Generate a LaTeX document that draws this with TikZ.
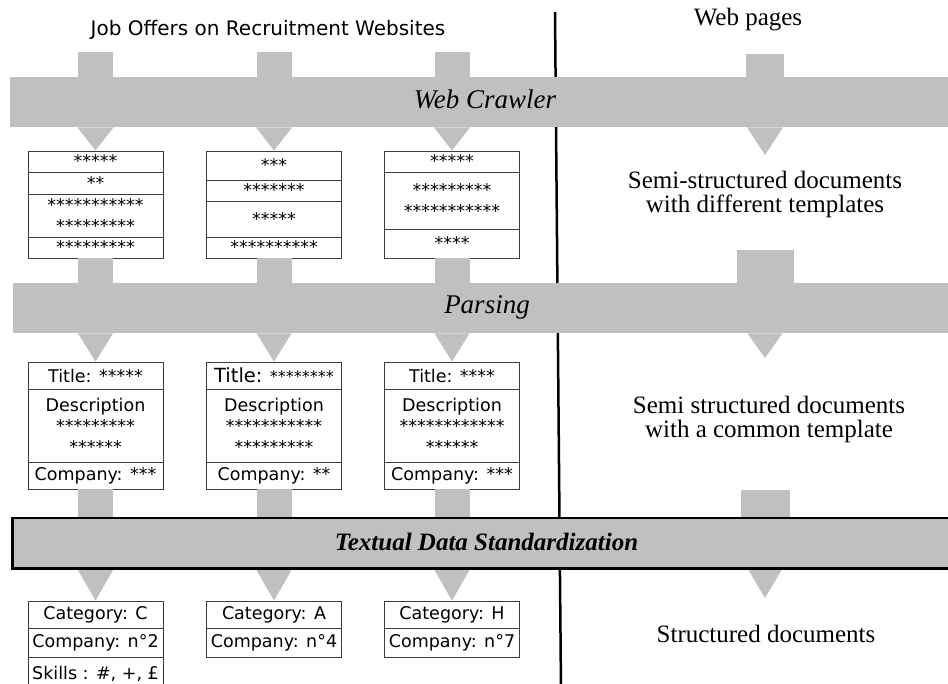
\documentclass[tikz,border=0pt]{standalone}
\usepackage{fontspec}
\setmainfont{Liberation Serif}
\newfontfamily\boxfont{DejaVu Sans}
\usetikzlibrary{calc}
\definecolor{bandgray}{RGB}{192,192,192}
\definecolor{boxline}{RGB}{60,60,60}

\begin{document}
\begin{tikzpicture}[x=1pt,y=-1pt,
  band/.style={fill=bandgray,draw=none},
  bandbar/.style={band,inner sep=0pt,anchor=north west,minimum width=950,minimum height=50},
  cell/.style={draw=boxline,line width=0.9pt,fill=white,inner sep=0pt,minimum width=135,
    align=center,font=\boxfont\fontsize{17.5}{21}\selectfont},
  bandlabel/.style={anchor=base,inner sep=0pt,font=\itshape\fontsize{27}{30}\selectfont},
  sidetext/.style={inner sep=0pt,align=center,font=\fontsize{25}{24}\selectfont}]
\useasboundingbox (0,0) rectangle (948,683);
\clip (0,0) rectangle (948,683);

% dividing line between the example and the description columns
\coordinate (divtop) at (555,12);
\coordinate (divbot) at (561,690);
\draw[line width=2.5pt] (divtop) -- (divbot);

% column headings
\node[anchor=base,inner sep=0pt,font=\boxfont\fontsize{20}{24}\selectfont] (jobs) at (268,35)
  {Job Offers on Recruitment Websites};
\node[sidetext,anchor=base] (webpages) at (748,25) {Web pages};

% entry points of the top arrows
\coordinate (in1) at (95.5,52);
\coordinate (in2) at (274,52);
\coordinate (in3) at (452,52);
\coordinate (inr) at (765,54);

% ---------- crawler outputs: raw documents ----------
\node[cell,minimum height=21] (w1a) at (95.5,161.5) {*****};
\node[cell,minimum height=22] (w1b) at (95.5,183) {**};
\node[cell,minimum height=43] (w1c) at (95.5,215.5) {***********\\*********};
\node[cell,minimum height=21] (w1d) at (95.5,247.5) {*********};

\node[cell,minimum height=29] (w2a) at (274,165.5) {***};
\node[cell,minimum height=21] (w2b) at (274,190.5) {*******};
\node[cell,minimum height=36] (w2c) at (274,219) {*****};
\node[cell,minimum height=21] (w2d) at (274,247.5) {**********};

\node[cell,minimum height=21] (w3a) at (452,161.5) {*****};
\node[cell,minimum height=57] (w3b) at (452,200.5) {*********\\***********};
\node[cell,minimum height=29] (w3c) at (452,243.5) {****};

% ---------- parsed documents ----------
\node[cell,minimum height=27] (p1a) at (95.5,375.5) {Title: *****};
\node[cell,minimum height=73] (p1b) at (95.5,425.5) {Description\\*********\\******};
\node[cell,minimum height=27] (p1c) at (95.5,475.5) {Company: ***};

\node[cell,minimum height=27] (p2a) at (274,375.5) {{\fontsize{19.5}{21}\selectfont Title:} {\fontsize{16}{21}\selectfont********}};
\node[cell,minimum height=73] (p2b) at (274,425.5) {Description\\***********\\*********};
\node[cell,minimum height=27] (p2c) at (274,475.5) {Company: **};

\node[cell,minimum height=27] (p3a) at (452,375.5) {Title: ****};
\node[cell,minimum height=73] (p3b) at (452,425.5) {Description\\************\\******};
\node[cell,minimum height=27] (p3c) at (452,475.5) {Company: ***};

% ---------- standardized documents ----------
\node[cell,minimum height=27] (s1a) at (95.5,614.5) {Category: C};
\node[cell,minimum height=29] (s1b) at (95.5,642.5) {Company: n°2};
\node[cell,minimum height=33] (s1c) at (95.5,673.5) {Skills : \#, +, £};

\node[cell,minimum height=27] (s2a) at (274,614.5) {Category: A};
\node[cell,minimum height=29] (s2b) at (274,642.5) {Company: n°4};

\node[cell,minimum height=27] (s3a) at (452,614.5) {Category: H};
\node[cell,minimum height=29] (s3b) at (452,642.5) {Company: n°7};

% right-hand descriptions
\node[sidetext] (semidiff) at (765,194) {Semi-structured documents\\with different templates};
\node[sidetext] (semicommon) at (769,419) {Semi structured documents\\with a common template};
\node[sidetext,anchor=base] (structured) at (766,642) {Structured documents};

% free ends of the right-hand arrows
\coordinate (rtip1) at (765,155);
\coordinate (rin2) at (765.5,250);
\coordinate (rtip2) at (765,358);
\coordinate (rin3) at (765.5,490);
\coordinate (rtip3) at (765,598);

% band outlines (positions only, filled below)
\path (10,77) node[bandbar,fill=none] (crawler) {};
\path (13,283) node[bandbar,fill=none] (parsing) {};
\path (12.5,518) node[bandbar,fill=none] (standard) {};

% stubs entering the bands
\foreach \c in {in1,in2,in3}
  \fill[band] ($(\c)+(-17.5,0)$) rectangle ($(\c |- crawler.north)+(17.5,0)$);
\fill[band] ($(inr)+(-19,0)$) rectangle ($(inr |- crawler.north)+(19,0)$);

\foreach \b in {w1d,w2d,w3c}
  \fill[band] ($(\b.south)+(-17.5,0)$) rectangle ($(\b.south |- parsing.north)+(17.5,0)$);
\fill[band] ($(rin2)+(-28.5,0)$) rectangle ($(rin2 |- parsing.north)+(28.5,0)$);

\foreach \b in {p1c,p2c,p3c}
  \fill[band] ($(\b.south)+(-17.5,0)$) rectangle ($(\b.south |- standard.north)+(17.5,0)$);
\fill[band] ($(rin3)+(-24.5,0)$) rectangle ($(rin3 |- standard.north)+(24.5,0)$);

% bands
\fill[band] (crawler.north west) rectangle (crawler.south east);
\fill[band] (parsing.north west) rectangle (parsing.south east);
\filldraw[fill=bandgray,draw=black,line width=2.5pt] (standard.north west) rectangle (standard.south east);

% arrow heads leaving the bands
\foreach \t in {w1a,w2a,w3a}
  \fill[band] ($(\t.north |- crawler.south)+(-18,0)$) -- ($(\t.north |- crawler.south)+(18,0)$) -- (\t.north) -- cycle;
\fill[band] ($(rtip1 |- crawler.south)+(-18,0)$) -- ($(rtip1 |- crawler.south)+(18,0)$) -- (rtip1) -- cycle;

\foreach \t in {p1a,p2a,p3a}
  \fill[band] ($(\t.north |- parsing.south)+(-17.5,0)$) -- ($(\t.north |- parsing.south)+(17.5,0)$) -- (\t.north) -- cycle;
\fill[band] ($(rtip2 |- parsing.south)+(-17.5,0)$) -- ($(rtip2 |- parsing.south)+(17.5,0)$) -- (rtip2) -- cycle;

\foreach \t in {s1a,s2a,s3a}
  \fill[band] ($(\t.north |- standard.south)+(-18.5,0)$) -- ($(\t.north |- standard.south)+(18.5,0)$) -- (\t.north) -- cycle;
\fill[band] ($(rtip3 |- standard.south)+(-17.5,0)$) -- ($(rtip3 |- standard.south)+(17.5,0)$) -- (rtip3) -- cycle;
% lower border of the standardization band over the heads
\draw[line width=2.5pt] (standard.south west) -- (standard.south east);

% band labels
\node[bandlabel] (crawlerlabel) at (485,108) {Web Crawler};
\node[bandlabel] (parsinglabel) at (487,313) {Parsing};
\node[bandlabel,font=\bfseries\itshape\fontsize{25}{28}\selectfont] (standardlabel) at (486.5,550)
  {Textual Data Standardization};
\end{tikzpicture}
\end{document}
